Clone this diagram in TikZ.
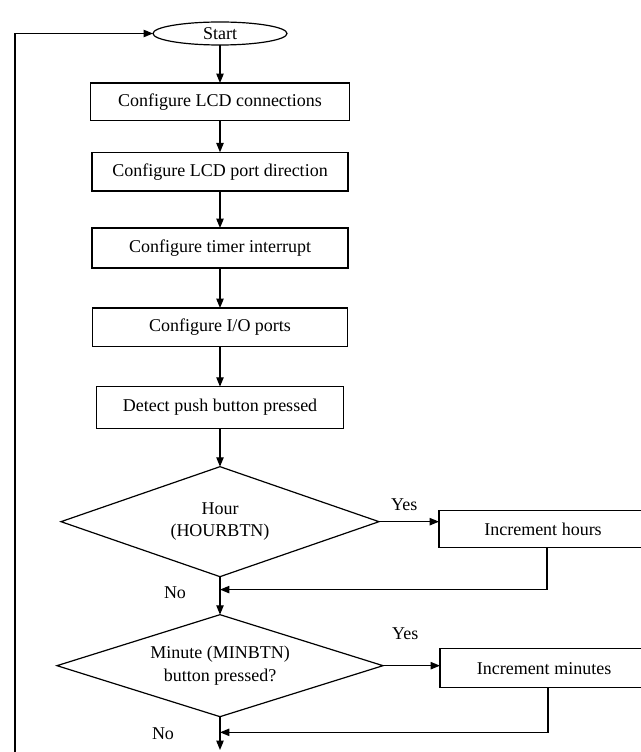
\documentclass[tikz,border=0pt]{standalone}
\usepackage{fontspec}
\setmainfont{Liberation Serif}
\usetikzlibrary{arrows.meta,positioning,calc,shapes.geometric}
\tikzset{
  box/.style={draw, rectangle, align=center, font=\fontsize{13.5}{17}\selectfont, inner sep=2pt, outer sep=0pt, line width=0.9pt, fill=white},
  term/.style={draw, ellipse, align=center, font=\fontsize{13.5}{17}\selectfont, inner sep=1pt, outer sep=0pt, line width=0.9pt, fill=white},
  dec/.style={draw, diamond, aspect=3, align=center, font=\fontsize{13.5}{17}\selectfont, inner sep=0pt, outer sep=0pt, line width=0.9pt, fill=white},
  arr/.style={-{Triangle[length=7pt, width=5.5pt]}, line width=0.9pt},
  lbl/.style={font=\fontsize{13.5}{17}\selectfont, inner sep=1pt},
}
\begin{document}
\begin{tikzpicture}[x=0.75pt, y=-0.75pt, node distance=28.5pt]
\clip (0,0) rectangle (641,752);
\node[term, minimum width=100.5pt, minimum height=17.25pt] (start) at (220,33.5) {Start};
\node[box, below=28.5pt of start, minimum width=194pt, minimum height=28pt] (lcd) {Configure LCD connections};
\node[box, below=24pt of lcd, minimum width=192pt, minimum height=29pt] (port) {Configure LCD port direction};
\node[box, below=27.75pt of port, minimum width=192pt, minimum height=30pt] (timer) {Configure timer interrupt};
\node[box, below=30pt of timer, minimum width=191pt, minimum height=29pt] (io) {Configure I/O ports};
\node[box, below=30pt of io, minimum width=185pt, minimum height=31.5pt] (det) {Detect push button pressed};
\node[dec, below=28.5pt of det, minimum width=238.5pt, minimum height=82.5pt] (hbtn) {Hour\\(HOURBTN)};
\node[dec, below=28.5pt of hbtn, minimum width=244.5pt, minimum height=76.5pt] (mbtn) {Minute (MINBTN)\\button pressed?};
\node[box, right=45pt of hbtn, yshift=-5.6pt, minimum width=156pt, minimum height=28pt] (hrs) {Increment hours};
\node[box, right=42.75pt of mbtn, yshift=-1.9pt, minimum width=156pt, minimum height=29pt] (mins) {Increment minutes};
\coordinate (bot) at (220,750);
\coordinate (back) at (15,770);
% main column
\draw[arr] (start) -- (lcd); \draw[arr] (lcd) -- (port); \draw[arr] (port) -- (timer);
\draw[arr] (timer) -- (io); \draw[arr] (io) -- (det); \draw[arr] (det) -- (hbtn.north);
\draw[arr] (hbtn.south) -- (mbtn.north) node[lbl, pos=0.42, xshift=-33.75pt] (no1) {No};
\draw[arr] (mbtn.south) -- (bot) node[lbl, pos=0.5, xshift=-42.75pt] (no2) {No};
% yes branches
\draw[arr] (hbtn.east) -- (hbtn.east -| hrs.west) node[lbl, pos=0.42, yshift=12.75pt] (yes1) {Yes};
\draw[arr] (mbtn.east) -- (mbtn.east -| mins.west) node[lbl, pos=0.39, yshift=24pt] (yes2) {Yes};
\draw[arr] ([xshift=3pt]hrs.south) |- ($(hbtn.south)!0.34!(mbtn.north)$);
\draw[arr] ([xshift=3pt]mins.south) |- ($(mbtn.south)!0.47!(bot)$);
% loop back
\draw[arr] (back) |- (start.west);
\end{tikzpicture}
\end{document}
